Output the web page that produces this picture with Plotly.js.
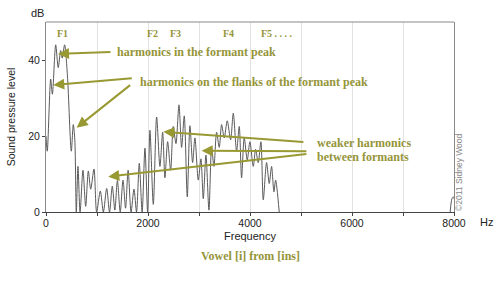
<!DOCTYPE html>
<html>
<head>
<meta charset="utf-8">
<script src="https://cdn.plot.ly/plotly-3.0.1.min.js"></script>
<style>
  html, body { margin: 0; padding: 0; background: #fff; }
  #chart { width: 500px; height: 281px; }
</style>
</head>
<body>
<div id="chart"></div>
<script>
// Spectrum of vowel [i] – peaks and valleys of the harmonics
const freqHz = [0,25,92,125,190,240,288,318,365,420,
  496,535,565,594,627,668,725,778,830,876,
  941,993,1065,1125,1190,1245,1300,1350,1400,1455,
  1510,1560,1610,1668,1725,1775,1829,1885,1940,1993,
  2038,2104,2169,2234,2287,2332,2385,2444,2495,2548,
  2607,2659,2711,2770,2822,2875,2920,2986,3038,3084,
  3136,3195,3247,3293,3345,3397,3443,3495,3554,3620,
  3672,3737,3789,3835,3887,3946,3998,4064,4110,4161,
  4214,4260,4325,4377,4423,4469,4502,4573];
const levelDb = [20,16,35,31,44,38,42.5,40.5,44,36,
  16,23,19,0,12,0,11,1.5,10.8,6,
  11.3,0,5.5,0,6.2,0,6.8,0.5,8.3,0,
  8.4,1,11,0,6,0,12.8,0,16.8,0,
  21.5,2,25,12,21,9,18.5,11,22.5,18,
  28.2,17,25.3,4,22.7,13,19.5,8.4,14,3.5,
  15,0.5,17,12,21,17,23,19.5,24,19,
  26,16,22.5,9,19.5,13.7,18.5,12,16.5,13,
  18.5,3.2,13,7.5,12,5.3,8.4,0];
// small bump at the top end of the spectrum
const edgeFreqHz = [7925,7960,7990,8000];
const edgeLevelDb = [0,3.5,4,3.5];

const xTickVals = [0,1000,2000,3000,4000,5000,6000,7000,8000];
const xTickText = ['0','','2000','','4000','','6000','','8000'];
const yTickVals = [0,20,40];
const yTickText = ['0','20','40'];

const olive = '#999933';
const oliveText = '#95953a';
const serif = 'Liberation Serif, Times New Roman, serif';

const lineStyle = {color: '#5a5a5a', width: 1, shape: 'spline', smoothing: 0.8};
const traces = [
  {x: freqHz, y: levelDb, type: 'scatter', mode: 'lines', line: lineStyle, hoverinfo: 'skip'},
  {x: edgeFreqHz, y: edgeLevelDb, type: 'scatter', mode: 'lines', line: lineStyle, hoverinfo: 'skip'}
];

function label(text, x, y, size, anchor) {
  return {text: text, xref: 'paper', yref: 'paper', x: x, y: y, showarrow: false,
    xanchor: anchor || 'left', yanchor: 'middle',
    font: {family: serif, size: size, color: oliveText, weight: 'bold'}};
}
function arrow(hx, hy, tx, ty) {
  return {text: '', x: hx, y: hy, ax: tx, ay: ty, xref: 'x', yref: 'y', axref: 'x', ayref: 'y',
    showarrow: true, arrowhead: 2, arrowsize: 1.1, arrowwidth: 2, arrowcolor: olive, standoff: 0};
}
// paper coordinate helpers (plot area: 46..454 px wide, 22..212 px tall)
const px = v => (v - 46) / 408;
const py = v => (212 - v) / 190;

const annotations = [
  label('<b>F1</b>', px(62), py(34), 10, 'center'),
  label('<b>F2</b>', px(152.5), py(34), 10, 'center'),
  label('<b>F3</b>', px(175.5), py(34), 10, 'center'),
  label('<b>F4</b>', px(228), py(34), 10, 'center'),
  label('<b>F5 . . . .</b>', px(259), py(34), 10, 'left'),
  label('<b>harmonics in the formant peak</b>', px(115), py(52), 12),
  label('<b>harmonics on the flanks of the formant peak</b>', px(138), py(82), 12),
  label('<b>weaker harmonics</b>', px(315), py(142.5), 12),
  label('<b>between formants</b>', px(315), py(156.5), 12),
  arrow(235, 41.6, 1294, 42.1),
  arrow(143, 33.4, 1711, 35.2),
  arrow(601, 22.2, 1679, 33.7),
  arrow(2300, 21.1, 5076, 18.4),
  arrow(3051, 16.1, 5135, 16.0),
  arrow(1221, 9.3, 5135, 15.3),
  {text: 'dB', xref: 'paper', yref: 'paper', x: px(37), y: py(13), showarrow: false,
    xanchor: 'center', yanchor: 'middle', font: {family: 'Liberation Sans, Arial, sans-serif', size: 11, color: '#222'}},
  {text: 'Hz', xref: 'paper', yref: 'paper', x: px(486), y: py(222), showarrow: false,
    xanchor: 'center', yanchor: 'middle', font: {family: 'Liberation Sans, Arial, sans-serif', size: 11, color: '#222'}},
  {text: '©2011 Sidney Wood', xref: 'paper', yref: 'paper', x: px(459), y: py(172), showarrow: false,
    textangle: -90, xanchor: 'center', yanchor: 'middle',
    font: {family: 'Liberation Sans, Arial, sans-serif', size: 8.5, color: '#888'}},
  {text: '<b>Vowel [i] from [ins]</b>', xref: 'paper', yref: 'paper', x: px(250), y: py(256), showarrow: false,
    xanchor: 'center', yanchor: 'middle', font: {family: serif, size: 12, color: oliveText}}
];

const layout = {
  width: 500, height: 281,
  margin: {l: 46, r: 46, t: 22, b: 69},
  paper_bgcolor: '#fff', plot_bgcolor: '#fff',
  showlegend: false,
  font: {family: 'Liberation Sans, Arial, sans-serif', size: 10, color: '#222'},
  xaxis: {
    range: [0, 8000], tickmode: 'array', tickvals: xTickVals, ticktext: xTickText,
    ticks: 'outside', ticklen: 3, tickcolor: '#444', showline: true, linecolor: '#444', linewidth: 1,
    showgrid: true, gridcolor: '#e2e2e2', gridwidth: 1, zeroline: false,
    ticklabelstandoff: -2,
    tickfont: {size: 10.5, color: '#222'},
    title: {text: 'Frequency', font: {size: 11, color: '#222'}, standoff: 4}
  },
  yaxis: {
    range: [0, 50], tickmode: 'array', tickvals: yTickVals, ticktext: yTickText,
    ticks: 'outside', ticklen: 3, tickcolor: '#444', showline: true, linecolor: '#888', linewidth: 1,
    mirror: true, showgrid: false, zeroline: false,
    tickfont: {size: 10.5, color: '#222'},
    title: {text: 'Sound pressure level', font: {size: 10.5, color: '#222'}, standoff: 10}
  },
  shapes: [
    {type: 'line', xref: 'paper', yref: 'paper', x0: 0, x1: 1, y0: 1, y1: 1, line: {color: '#888', width: 1}}
  ],
  annotations: annotations
};

Plotly.newPlot('chart', traces, layout, {displayModeBar: false, staticPlot: true});
</script>
</body>
</html>
